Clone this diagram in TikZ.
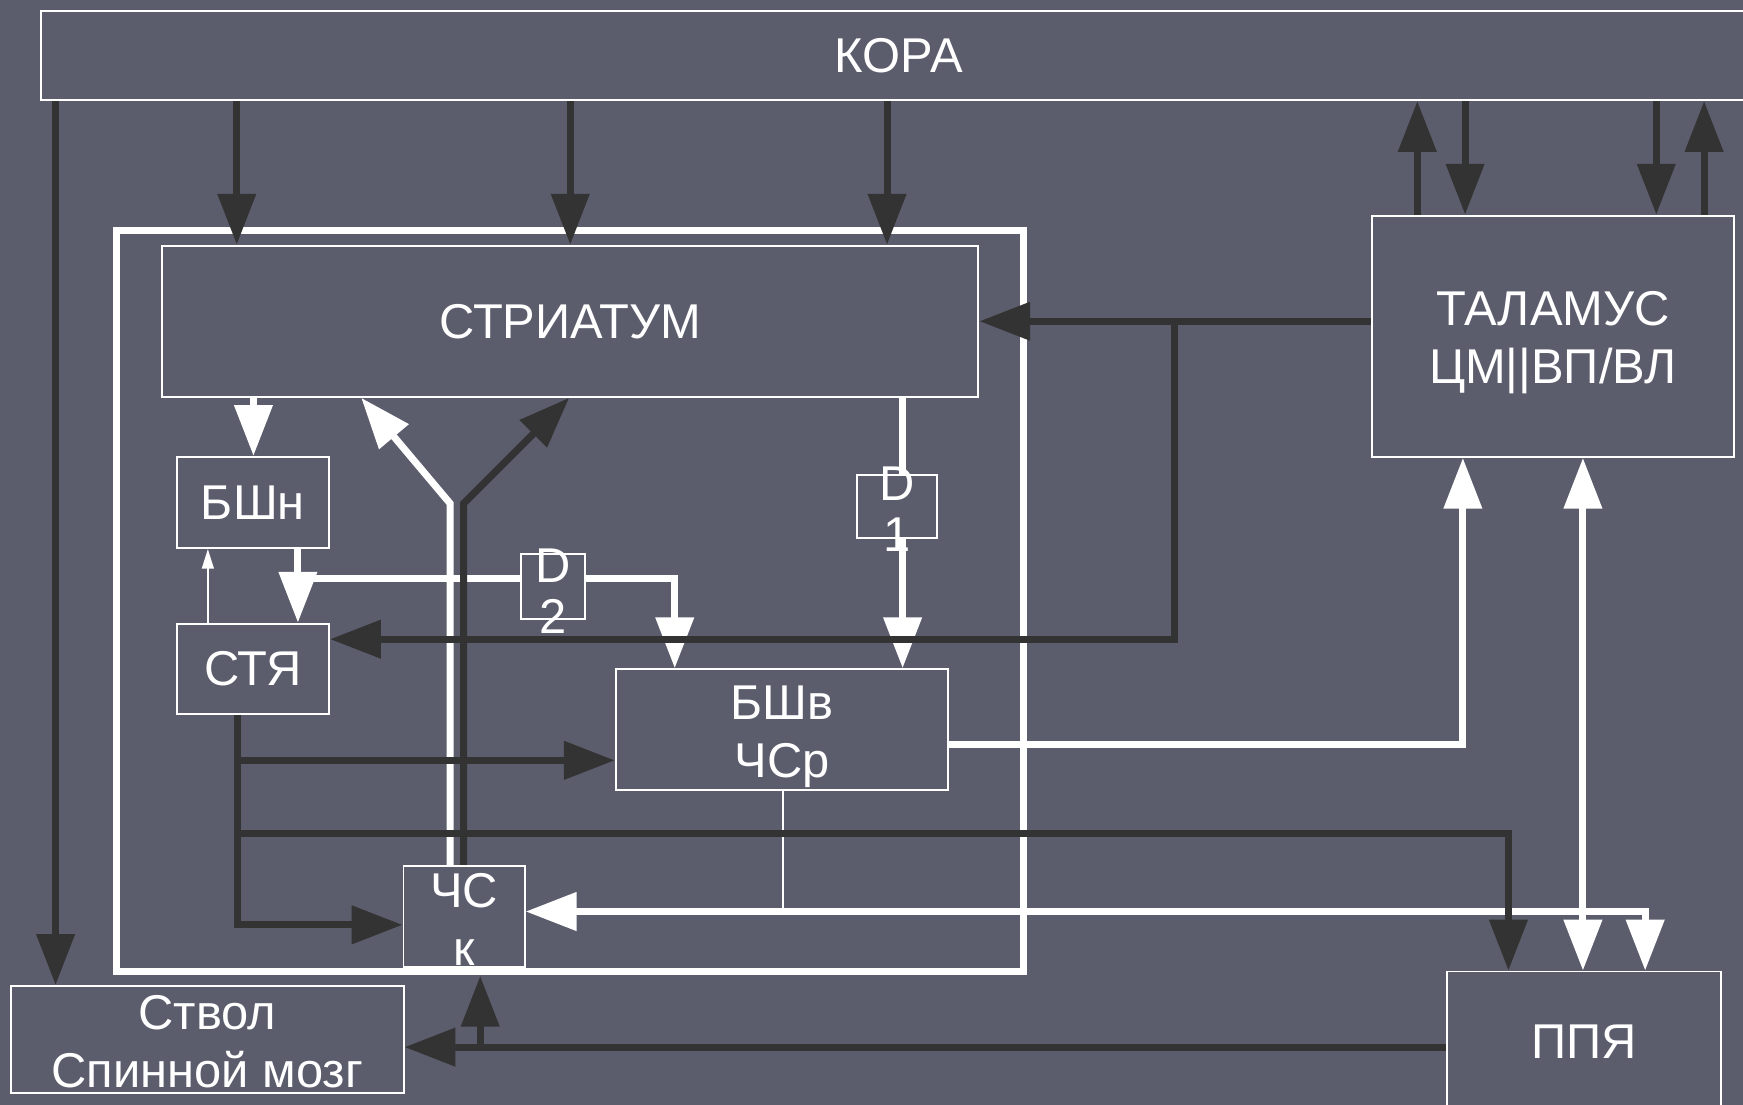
\documentclass[tikz,border=0pt]{standalone}
\usepackage{fontspec}
\setmainfont{Liberation Sans}
\usetikzlibrary{arrows.meta}

\definecolor{bgcol}{RGB}{91,93,108}
\definecolor{dkcol}{RGB}{51,51,51}

\begin{document}
\begin{tikzpicture}[x=0.01cm,y=-0.01cm,
    box/.style={draw=white, line width=0.5pt, fill=bgcol, text=white,
        align=center, inner sep=0pt, font=\fontsize{12.5}{14.8}\selectfont},
    lbl/.style={text=white, align=center, inner sep=0pt,
        font=\fontsize{12.5}{14.8}\selectfont},
    dlbl/.style={lbl, font=\fontsize{12.5}{13}\selectfont},
    dk/.style={draw=dkcol, line width=1.8pt},
    wt/.style={draw=white, line width=1.8pt},
    thin/.style={draw=white, line width=0.5pt},
    >={Triangle[length=13pt,width=9.5pt]}]

    \useasboundingbox (0,0) rectangle (1568,994);
    \fill[bgcol] (0,0) rectangle (1568,994);
    \clip (0,0) rectangle (1568,994);

    % basal ganglia frame
    \draw[white, line width=1.8pt] (105,207) rectangle (921,874);

    % blocks
    \node[box, minimum width=15.43cm, minimum height=0.8cm] (kora) at (808.5,50) {КОРА};
    \node[box, minimum width=7.34cm, minimum height=1.36cm] (striatum) at (513,289) {СТРИАТУМ};
    \node[box, minimum width=3.26cm, minimum height=2.17cm] (thal) at (1397,302.5) {};
    \node[lbl] (thalt) at (1397,308.5) {ТАЛАМУС\\ЦМ||ВП/ВЛ};
    \node[box, minimum width=1.37cm, minimum height=0.82cm] (bshn) at (227.5,452) {БШн};
    \node[box, minimum width=1.37cm, minimum height=0.81cm] (stya) at (227.5,601.5) {СТЯ};
    \node[box, minimum width=2.99cm, minimum height=1.09cm] (bshv) at (703.5,656.5) {};
    \node[lbl] (bshvt) at (703.5,662.5) {БШв\\ЧСр};
    \node[box, minimum width=1.09cm, minimum height=0.91cm] (chsk) at (417.5,824.5) {};
    \node[lbl] (chskt) at (417.5,827.5) {ЧС\\к};
    \node[box, minimum width=2.46cm, minimum height=1.26cm] (ppya) at (1425,937) {ППЯ};
    \node[box, minimum width=3.53cm, minimum height=0.96cm] (stvol) at (186.5,935) {};
    \node[lbl] (stvolt) at (186.5,937) {Ствол\\Спинной мозг};

    % receptor boxes
    \node[box, minimum width=0.72cm, minimum height=0.57cm] (d1) at (807,455.5) {};
    \node[dlbl] (d1t) at (807,458) {D\\1};
    \node[box, minimum width=0.57cm, minimum height=0.59cm] (d2) at (497.5,527.5) {};
    \node[dlbl] (d2t) at (497.5,531.5) {D\\2};

    \coordinate (jb) at (268,520);
    \coordinate (jc) at (704,820);
    \coordinate (yw) at (405,453);
    \coordinate (yd) at (417,453);
    \coordinate (jt) at (1057,289);
    \coordinate (s1) at (214,684);
    \coordinate (s2) at (214,750);
    \coordinate (jp) at (432,942);

    % white paths
    \draw[wt,->] (striatum.south -| 228,0) -- (bshn.north -| 228,0);
    \draw[thin,-{Triangle[length=5pt,width=3pt]}] (stya.north -| 187,0) -- (bshn.south -| 187,0);
    \draw[wt,->] (bshn.south -| jb) -- (stya.north -| jb);
    \draw[wt] (jb) -- (d2.west |- jb);
    \draw[wt,->] (d2.east |- jb) -| (bshv.north -| 607,0);
    \draw[wt] (striatum.south -| 812,0) -- (d1.north -| 812,0);
    \draw[wt,->] (d1.south -| 812,0) -- (bshv.north -| 812,0);
    \draw[wt,->] (bshv.east |- 0,670) -| (thal.south -| 1316,0);
    \draw[wt,<->] (thal.south -| 1424,0) -- (ppya.north -| 1424,0);
    \draw[wt,<->] (chsk.east |- jc) -| (ppya.north -| 1480,0);
    \draw[thin] (bshv.south -| jc) -- (jc);
    \draw[wt,->] (chsk.north -| yw) -- (yw) -- (striatum.south -| 325,0);

    % dark paths
    \draw[dk,->] (chsk.north -| yd) -- (yd) -- (striatum.south -| 512,0);
    \foreach \xa in {213,513,798}
        \draw[dk,->] (kora.south -| \xa,0) -- (striatum.north -| \xa,0);
    \draw[dk,->] (kora.south -| 50,0) -- (stvol.north -| 50,0);
    \draw[dk,->] (thal.north -| 1275,0) -- (kora.south -| 1275,0);
    \draw[dk,->] (kora.south -| 1318,0) -- (thal.north -| 1318,0);
    \draw[dk,->] (kora.south -| 1490,0) -- (thal.north -| 1490,0);
    \draw[dk,->] (thal.north -| 1533,0) -- (kora.south -| 1533,0);
    \draw[dk,->] (thal.west |- jt) -- (striatum.east |- jt);
    \draw[dk,->] (jt) |- (stya.east |- 0,575);
    \draw[dk,->] (stya.south -| s1) |- (chsk.west |- 0,832);
    \draw[dk,->] (s1) -- (bshv.west |- s1);
    \draw[dk,->] (s2) -| (ppya.north -| 1357,0);
    \draw[dk,->] (ppya.west |- jp) -- (stvol.east |- jp);
    \draw[dk,->,shorten >=0.07cm] (jp) -- (chsk.south -| jp);
\end{tikzpicture}
\end{document}
